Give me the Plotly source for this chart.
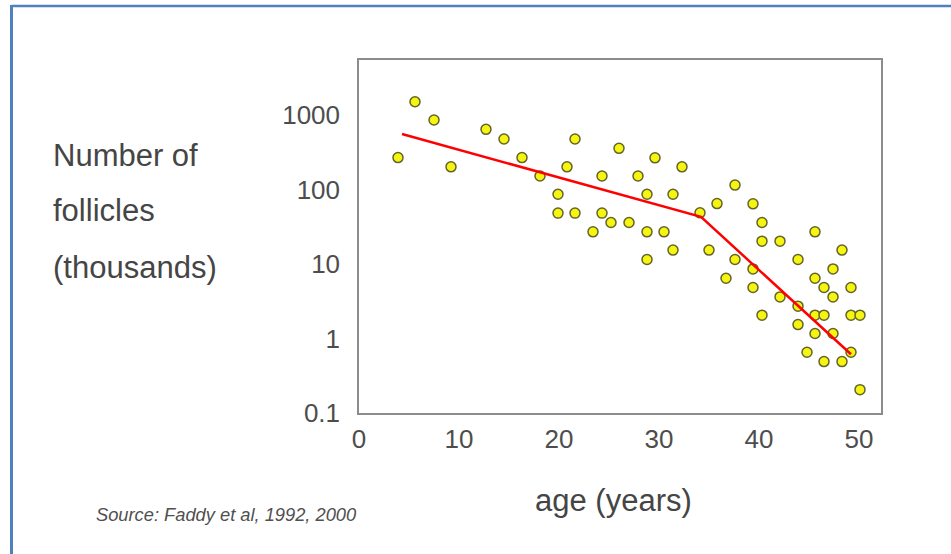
import plotly.graph_objects as go

# ---- data ----
age = [3.9, 5.6, 7.5, 9.2, 12.7, 14.5, 16.3, 18.1, 19.9, 19.9,
       21.6, 20.8, 21.6, 23.4, 24.3, 24.3, 25.2, 26.0, 27.0, 27.9,
       28.8, 28.8, 28.8, 29.6, 30.5, 31.4, 31.4, 32.3, 34.1, 35.0,
       35.8, 36.7, 37.6, 37.6, 39.4, 39.4, 39.4, 40.3, 40.3, 40.3,
       42.1, 42.1, 43.9, 43.9, 43.9, 44.8, 45.6, 45.6, 45.6, 45.6,
       46.5, 46.5, 46.5, 47.4, 47.4, 47.4, 48.3, 48.3, 49.2, 49.2,
       49.2, 50.1, 50.1]
follicles = [269, 1514, 859, 202, 644, 478, 269, 152, 86.5, 48.3,
             478, 202, 48.3, 27.1, 152, 48.3, 36.2, 358, 36.2, 152,
             86.5, 27.1, 11.5, 267, 27.1, 86.5, 15.4, 202, 48.7, 15.4,
             64.9, 6.45, 115, 11.5, 64.4, 8.6, 4.84, 36.2, 20.3, 2.06,
             20.3, 3.62, 11.5, 2.72, 1.54, 0.655, 27.1, 6.45, 2.06, 1.17,
             4.84, 2.06, 0.49, 8.6, 3.62, 1.17, 15.4, 0.49, 4.84, 2.06,
             0.655, 2.06, 0.206]
fit_age = [4.3, 34.2, 49.2]
fit_follicles = [557, 43, 0.615]

x_ticks = [0, 10, 20, 30, 40, 50]
y_ticks = [0.1, 1, 10, 100, 1000]
y_tick_labels = ["0.1", "1", "10", "100", "1000"]

y_label_lines = ["Number of", "follicles", "(thousands)"]
x_title = "age (years)"
source_text = "Source: Faddy et al, 1992, 2000"

# ---- layout geometry (pixels) ----
W, H = 951, 554
L, R, T, B = 359, 881, 60, 412.7

def px_x(p):
    return (p - L) / (R - L)

def px_y(p):
    return (B - p) / (B - T)

fig = go.Figure()
fig.add_trace(go.Scatter(
    x=age, y=follicles, mode="markers",
    marker=dict(size=10, color="#f5f50f",
                line=dict(color="#63632c", width=1.5))))
fig.add_trace(go.Scatter(
    x=fit_age, y=fit_follicles, mode="lines",
    line=dict(color="#ff0000", width=2.5), hoverinfo="skip"))

font_main = "Liberation Sans, Arial, sans-serif"
annotations = []
for txt, py in zip(y_label_lines, [155.6, 210.6, 267.3]):
    annotations.append(dict(
        text=txt, xref="paper", yref="paper", x=px_x(51), y=px_y(py),
        xanchor="left", yanchor="middle", showarrow=False,
        font=dict(family=font_main, size=31, color="#454545")))
annotations.append(dict(
    text=x_title, xref="paper", yref="paper", x=px_x(613), y=px_y(500),
    xanchor="center", yanchor="middle", showarrow=False,
    font=dict(family=font_main, size=31, color="#454545")))
annotations.append(dict(
    text="<i>" + source_text + "</i>", xref="paper", yref="paper",
    x=px_x(94), y=px_y(514), xanchor="left", yanchor="middle",
    showarrow=False,
    font=dict(family=font_main, size=18.3, color="#505050")))

shapes = [
    dict(type="line", xref="paper", yref="paper",
         x0=px_x(11.5), x1=px_x(960), y0=px_y(6), y1=px_y(6),
         line=dict(color="#4f81bd", width=2.5)),
    dict(type="line", xref="paper", yref="paper",
         x0=px_x(11.5), x1=px_x(11.5), y0=px_y(5), y1=px_y(560),
         line=dict(color="#4f81bd", width=3)),
]

fig.update_layout(
    width=W, height=H,
    margin=dict(l=L, r=W - R, t=T, b=H - B, pad=0),
    paper_bgcolor="white", plot_bgcolor="white",
    showlegend=False,
    annotations=annotations, shapes=shapes,
    font=dict(family=font_main),
)
fig.update_xaxes(
    range=[0, 52.2], tickvals=x_ticks, showgrid=False, zeroline=False,
    showline=True, mirror=True, linecolor="#8c8c8c", linewidth=1.5,
    ticks="", tickfont=dict(size=26, color="#4d4d4d"), ticklabelstandoff=2)
fig.update_yaxes(
    type="log", range=[-1, 3.74], tickvals=y_ticks, ticktext=y_tick_labels,
    showgrid=False, zeroline=False,
    showline=True, mirror=True, linecolor="#8c8c8c", linewidth=1.5,
    ticks="", tickfont=dict(size=26, color="#4d4d4d"), ticklabelstandoff=12)

fig.write_html(
    "out.html",
    config={"displayModeBar": False},
    post_script="document.body.style.margin='0';document.body.style.overflow='hidden';")
